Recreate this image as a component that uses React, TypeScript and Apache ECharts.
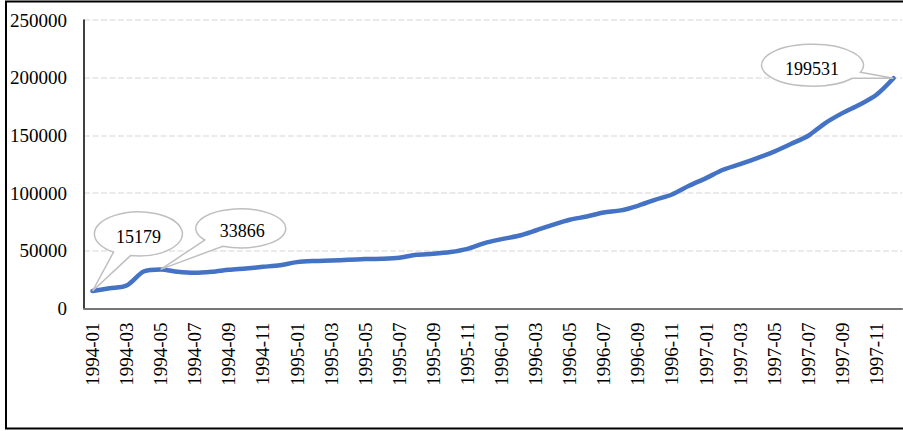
import { useEffect, useRef } from "react";
import * as echarts from "echarts";

const months: string[] = [
  "1994-01", "1994-02", "1994-03", "1994-04", "1994-05", "1994-06", "1994-07", "1994-08", "1994-09", "1994-10", "1994-11", "1994-12",
  "1995-01", "1995-02", "1995-03", "1995-04", "1995-05", "1995-06", "1995-07", "1995-08", "1995-09", "1995-10", "1995-11", "1995-12",
  "1996-01", "1996-02", "1996-03", "1996-04", "1996-05", "1996-06", "1996-07", "1996-08", "1996-09", "1996-10", "1996-11", "1996-12",
  "1997-01", "1997-02", "1997-03", "1997-04", "1997-05", "1997-06", "1997-07", "1997-08", "1997-09", "1997-10", "1997-11", "1997-12",
];

const values: number[] = [
  15179, 17500, 19900, 32000, 33866, 31800, 30900, 31800, 33500, 34700, 36100, 37500,
  40200, 41200, 41600, 42200, 42800, 43100, 44000, 46500, 47400, 48900, 51700, 56700,
  60100, 63000, 67600, 72500, 76900, 79700, 83200, 85000, 89000, 94200, 98800, 106300,
  113000, 120200, 125100, 130300, 136000, 142700, 149700, 160700, 169300, 176500, 185200, 199531,
];

const yTicks: number[] = [0, 50000, 100000, 150000, 200000, 250000];

const calloutIndices: number[] = [0, 4, 47];

// callout shapes (relative to anchored data point) and text offsets
const calloutShapes = [
  { name: "bubbleA", d: "M21 -38.9 L0 0 L38 -35.4 A44 22 0 1 0 21 -38.9 Z", tx: 46, ty: -54 },
  { name: "bubbleB", d: "M44 -29.4 L0 0 L62 -23.2 A45 19.5 0 1 0 44 -29.4 Z", tx: 81.5, ty: -38 },
  { name: "bubbleC", d: "M-33 -5.9 L0 0 L-41 0 A51 21 0 1 1 -33 -5.9 Z", tx: -81.5, ty: -9 },
];

let registered = false;
function registerShapes() {
  if (registered) return;
  registered = true;
  calloutShapes.forEach((s) => {
    echarts.graphic.registerShape(s.name, echarts.graphic.extendPath(s.d, {}) as any);
  });
}

const FONT = '"Liberation Serif", "Times New Roman", serif';

export default function App() {
  const ref = useRef<HTMLDivElement>(null);

  useEffect(() => {
    if (!ref.current) return;
    registerShapes();
    const chart = echarts.init(ref.current, undefined, { renderer: "svg" });
    chart.setOption({
      animation: false,
      backgroundColor: "#ffffff",
      grid: { left: 84, top: 20, right: 1, bottom: 122.5, containLabel: false },
      xAxis: {
        type: "category",
        data: months,
        boundaryGap: true,
        axisLine: { show: true, lineStyle: { color: "#767676", width: 2 } },
        axisTick: { show: false },
        axisLabel: {
          interval: 1,
          rotate: 90,
          margin: 14,
          fontSize: 19,
          fontFamily: FONT,
          color: "#000",
        },
        splitLine: { show: false },
      },
      yAxis: {
        type: "value",
        min: yTicks[0],
        max: yTicks[yTicks.length - 1],
        interval: yTicks[1] - yTicks[0],
        axisLine: { show: true, lineStyle: { color: "#000", width: 1.5 } },
        axisTick: { show: false },
        axisLabel: {
          margin: 17,
          fontSize: 19,
          fontFamily: FONT,
          color: "#000",
          formatter: (v: number) => String(v),
        },
        splitLine: { show: true, lineStyle: { color: "#e3e3e3", width: 1.5, type: [6, 2.5] } },
      },
      series: [
        {
          type: "line",
          data: values,
          smooth: 0.3,
          showSymbol: false,
          symbol: "none",
          lineStyle: { color: "#4472C4", width: 4.5, cap: "round", join: "round" },
          z: 3,
        },
      ],
    });

    const graphics: any[] = [
      {
        type: "rect",
        shape: { x: 6, y: 1.5, width: 903, height: 427 },
        style: { fill: "transparent", stroke: "#000", lineWidth: 2 },
        z: 200,
        silent: true,
      },
    ];
    calloutIndices.forEach((idx, k) => {
      const p = chart.convertToPixel({ seriesIndex: 0 }, [idx, values[idx]]) as number[];
      const s = calloutShapes[k];
      graphics.push({
        type: s.name,
        x: p[0],
        y: p[1],
        style: { fill: "#ffffff", stroke: "#bfbfbf", lineWidth: 1.5 },
        z: 100,
      });
      graphics.push({
        type: "text",
        x: p[0] + s.tx,
        y: p[1] + s.ty,
        style: {
          text: String(values[idx]),
          font: `18px ${FONT}`,
          fill: "#000",
          align: "center",
          verticalAlign: "middle",
        },
        z: 101,
      });
    });
    chart.setOption({ graphic: graphics });

    return () => chart.dispose();
  }, []);

  return (
    <div
      ref={ref}
      style={{ position: "absolute", left: 0, top: 0, width: 903, height: 431 }}
    />
  );
}
